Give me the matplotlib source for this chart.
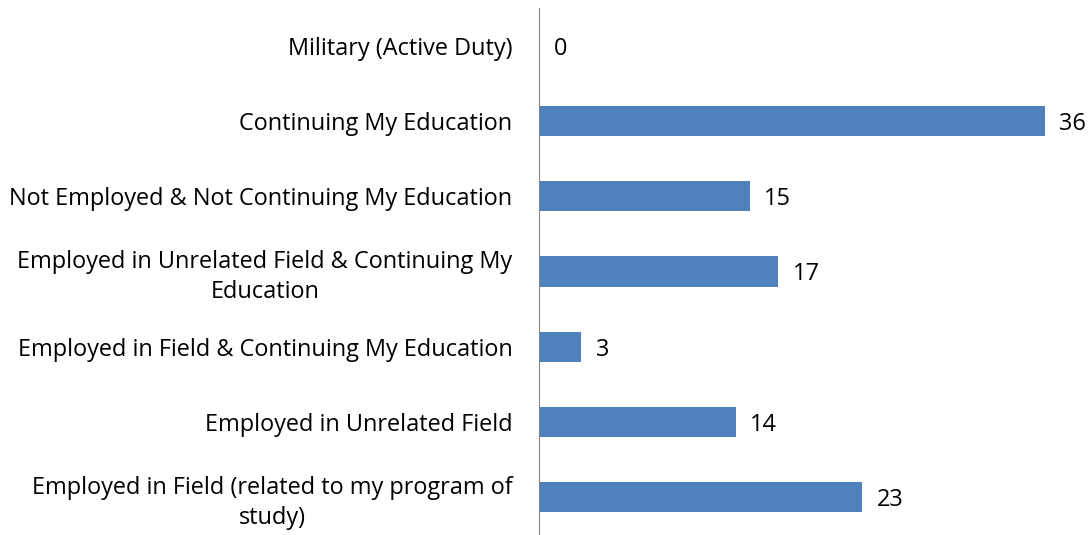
import matplotlib
matplotlib.use("Agg")
import matplotlib.pyplot as plt

categories = [
    "Military (Active Duty)",
    "Continuing My Education",
    "Not Employed & Not Continuing My Education",
    "Employed in Unrelated Field & Continuing My\nEducation",
    "Employed in Field & Continuing My Education",
    "Employed in Unrelated Field",
    "Employed in Field (related to my program of\nstudy)",
]
values = [0, 36, 15, 17, 3, 14, 23]

bar_color = "#4F81BD"

plt.rcParams['font.family'] = ['Open Sans', 'DejaVu Sans']

W, H = 1092, 535
fig = plt.figure(figsize=(W / 100, H / 100), dpi=100)
ax = fig.add_axes([539 / W, 0, (W - 539) / W, (535 - 8) / H])

pos = list(range(len(categories)))
ax.barh(pos, values, height=0.4, color=bar_color)
ax.set_ylim(len(categories) - 0.5, -0.5)
ax.set_xlim(0, (W - 539) / 14.05)

ax.set_yticks(pos)
ax.set_yticklabels(categories, fontsize=16.9)
for lab in ax.get_yticklabels():
    lab.set_multialignment('center')
    lab.set_linespacing(1.3)
ax.tick_params(axis='y', length=0, pad=19)
ax.set_xticks([])

for p, v in zip(pos, values):
    ax.annotate(str(v), (v, p), xytext=(10.5, 0), textcoords='offset points',
                va='center_baseline', ha='left', fontsize=16.9)

for s in ['top', 'right', 'bottom']:
    ax.spines[s].set_visible(False)
ax.spines['left'].set_color('#868686')

fig.savefig("out.png", dpi=100)
